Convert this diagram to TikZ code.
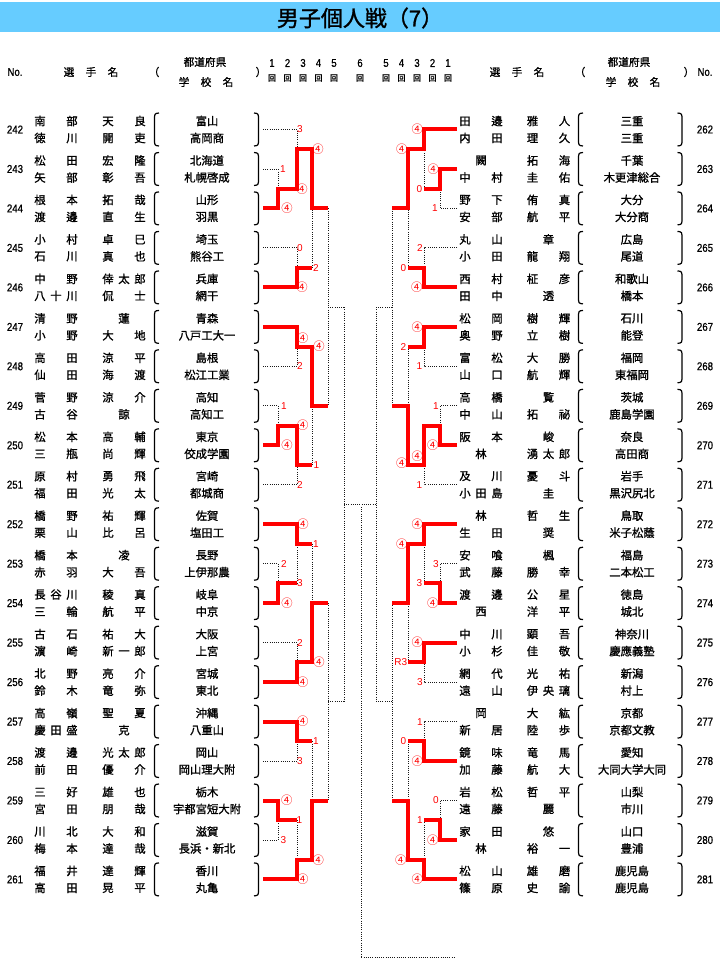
\documentclass[tikz,border=0pt]{standalone}
\usepackage{fontspec}
\newfontfamily\jpf{Noto Sans CJK JP}
\newfontfamily\jpbf[FakeBold=1.2]{Noto Sans CJK JP}
\newfontfamily\numf[FakeStretch=0.85,FakeBold=0.8]{Liberation Sans}
\newfontfamily\scorf{Liberation Sans}
\definecolor{barblue}{HTML}{66CCFF}
\newlength\namew
\setlength\namew{32.5pt}
\makeatletter
\newcommand\nmbox[1]{\hbox to \namew{\nm@a#1\@nil}}
\def\nm@a#1#2\@nil{\ifx\relax#2\relax\hfil#1\hfil\else#1\nm@b#2\@nil\fi}
\def\nm@b#1#2\@nil{\hfil#1\ifx\relax#2\relax\else\nm@b#2\@nil\fi}
\makeatother
% left entry: y, No., family/given (line 1), family/given (line 2), prefecture, school
\newcommand\Lent[8]{%
	\coordinate (s#2) at (263,#1);
	\node[notxt] (no#2) at (15,#1) {#2};
	\node[nmtxt] (fa#2) at (56,{#1-8.5}) {\nmbox{#3}};
	\node[nmtxt] (ga#2) at (124,{#1-8.5}) {\nmbox{#4}};
	\node[nmtxt] (fb#2) at (56,{#1+8.5}) {\nmbox{#5}};
	\node[nmtxt] (gb#2) at (124,{#1+8.5}) {\nmbox{#6}};
	\node[nmtxt] (pr#2) at (207,{#1-8.5}) {#7};
	\node[nmtxt] (sh#2) at (207,{#1+8.5}) {#8};
	\draw[parln] (159,{#1-16.5}) .. controls (154.5,{#1-16}) .. (154.5,{#1-9}) -- (154.5,{#1+9}) .. controls (154.5,{#1+16}) .. (159,{#1+16.5});
	\draw[parln] (254,{#1-16.5}) .. controls (258.5,{#1-16}) .. (258.5,{#1-9}) -- (258.5,{#1+9}) .. controls (258.5,{#1+16}) .. (254,{#1+16.5});
}
% right entry
\newcommand\Rent[8]{%
	\coordinate (s#2) at (457,#1);
	\node[notxt] (no#2) at (705,#1) {#2};
	\node[nmtxt] (fa#2) at (481,{#1-8.5}) {\nmbox{#3}};
	\node[nmtxt] (ga#2) at (548.5,{#1-8.5}) {\nmbox{#4}};
	\node[nmtxt] (fb#2) at (481,{#1+8.5}) {\nmbox{#5}};
	\node[nmtxt] (gb#2) at (548.5,{#1+8.5}) {\nmbox{#6}};
	\node[nmtxt] (pr#2) at (632,{#1-8.5}) {#7};
	\node[nmtxt] (sh#2) at (632,{#1+8.5}) {#8};
	\draw[parln] (583,{#1-16.5}) .. controls (578.5,{#1-16}) .. (578.5,{#1-9}) -- (578.5,{#1+9}) .. controls (578.5,{#1+16}) .. (583,{#1+16.5});
	\draw[parln] (677.5,{#1-16.5}) .. controls (682,{#1-16}) .. (682,{#1-9}) -- (682,{#1+9}) .. controls (682,{#1+16}) .. (677.5,{#1+16.5});
}
\begin{document}
\begin{tikzpicture}[x=0.75pt,y=-0.75pt,
	redln/.style={red,line width=3pt},
	dotln/.style={black!90,densely dotted,line width=0.65pt},
	parln/.style={line width=0.9pt},
	notxt/.style={inner sep=0,font=\numf\fontsize{8.5}{10}\selectfont},
	nmtxt/.style={inner sep=0,font=\jpbf\fontsize{8.5}{10}\selectfont},
	hdtxt/.style={inner sep=0,font=\jpbf\fontsize{8}{10}\selectfont},
	rdtxt/.style={inner sep=0,font=\jpbf\fontsize{6}{7}\selectfont},
	sctxt/.style={inner sep=0,red,font=\scorf\fontsize{7.5}{9}\selectfont},
	cirtxt/.style={inner sep=0,red,font=\jpf\fontsize{8.5}{9}\selectfont}]
	\fill[white] (0,0) rectangle (720,977);
	\useasboundingbox (0,0) rectangle (720,977);
	\fill[barblue] (0,2) rectangle (720,32);
	\node[inner sep=0,font=\jpbf\fontsize{16.5}{18}\selectfont] (title) at (360,18) {男子個人戦（7）};
	% header
	\node[notxt] (hnoL) at (15,72) {No.};
	\node[hdtxt] (hselL) at (91,72) {\makebox[41pt][s]{選\hfil 手\hfil 名}};
	\node[hdtxt] (hpaL) at (154,72) {（};
	\node[hdtxt] (hprL) at (205,62) {都道府県};
	\node[hdtxt] (hshL) at (206,82) {\makebox[41pt][s]{学\hfil 校\hfil 名}};
	\node[hdtxt] (hpbL) at (261,72) {）};
	\node[notxt] (hnoR) at (705,72) {No.};
	\node[hdtxt] (hselR) at (517,72) {\makebox[41pt][s]{選\hfil 手\hfil 名}};
	\node[hdtxt] (hpaR) at (580,72) {（};
	\node[hdtxt] (hprR) at (629,62) {都道府県};
	\node[hdtxt] (hshR) at (633,82) {\makebox[41pt][s]{学\hfil 校\hfil 名}};
	\node[hdtxt] (hpbR) at (689,72) {）};
	\node[notxt] (rn1) at (272,63) {1};    \node[rdtxt] (rk1) at (272,78) {回};
	\node[notxt] (rn2) at (287.5,63) {2};  \node[rdtxt] (rk2) at (287.5,78) {回};
	\node[notxt] (rn3) at (303,63) {3};    \node[rdtxt] (rk3) at (303,78) {回};
	\node[notxt] (rn4) at (318.5,63) {4};  \node[rdtxt] (rk4) at (318.5,78) {回};
	\node[notxt] (rn5) at (334,63) {5};    \node[rdtxt] (rk5) at (334,78) {回};
	\node[notxt] (rn6) at (360,63) {6};    \node[rdtxt] (rk6) at (360,78) {回};
	\node[notxt] (rm5) at (386,63) {5};    \node[rdtxt] (rj5) at (386,78) {回};
	\node[notxt] (rm4) at (401.5,63) {4};  \node[rdtxt] (rj4) at (401.5,78) {回};
	\node[notxt] (rm3) at (417,63) {3};    \node[rdtxt] (rj3) at (417,78) {回};
	\node[notxt] (rm2) at (432.5,63) {2};  \node[rdtxt] (rj2) at (432.5,78) {回};
	\node[notxt] (rm1) at (448,63) {1};    \node[rdtxt] (rj1) at (448,78) {回};
	% players
	\Lent{129.5}{242}{南部}{天良}{徳川}{開吏}{富山}{高岡商}
	\Lent{169.0}{243}{松田}{宏隆}{矢部}{彰吾}{北海道}{札幌啓成}
	\Lent{208.4}{244}{根本}{拓哉}{渡邊}{直生}{山形}{羽黒}
	\Lent{247.9}{245}{小村}{卓巳}{石川}{真也}{埼玉}{熊谷工}
	\Lent{287.4}{246}{中野}{倖太郎}{八十川}{侃士}{兵庫}{網干}
	\Lent{326.9}{247}{清野}{蓮}{小野}{大地}{青森}{八戸工大一}
	\Lent{366.3}{248}{高田}{涼平}{仙田}{海渡}{島根}{松江工業}
	\Lent{405.8}{249}{菅野}{涼介}{古谷}{諒}{高知}{高知工}
	\Lent{445.3}{250}{松本}{高輔}{三瓶}{尚輝}{東京}{佼成学園}
	\Lent{484.7}{251}{原村}{勇飛}{福田}{光太}{宮崎}{都城商}
	\Lent{524.2}{252}{橋野}{祐輝}{栗山}{比呂}{佐賀}{塩田工}
	\Lent{563.7}{253}{橋本}{凌}{赤羽}{大吾}{長野}{上伊那農}
	\Lent{603.1}{254}{長谷川}{稜真}{三輪}{航平}{岐阜}{中京}
	\Lent{642.6}{255}{古石}{祐大}{濵崎}{新一郎}{大阪}{上宮}
	\Lent{682.1}{256}{北野}{亮介}{鈴木}{竜弥}{宮城}{東北}
	\Lent{721.6}{257}{高嶺}{聖夏}{慶田盛}{克}{沖縄}{八重山}
	\Lent{761.0}{258}{渡邊}{光太郎}{前田}{優介}{岡山}{岡山理大附}
	\Lent{800.5}{259}{三好}{雄也}{宮田}{朋哉}{栃木}{宇都宮短大附}
	\Lent{840.0}{260}{川北}{大和}{梅本}{達哉}{滋賀}{長浜・新北}
	\Lent{879.4}{261}{福井}{達輝}{高田}{晃平}{香川}{丸亀}
	\Rent{129.5}{262}{田邊}{雅人}{内田}{理久}{三重}{三重}
	\Rent{169.0}{263}{闕}{拓海}{中村}{圭佑}{千葉}{木更津総合}
	\Rent{208.4}{264}{野下}{侑真}{安部}{航平}{大分}{大分商}
	\Rent{247.9}{265}{丸山}{章}{小田}{龍翔}{広島}{尾道}
	\Rent{287.4}{266}{西村}{柾彦}{田中}{透}{和歌山}{橋本}
	\Rent{326.9}{267}{松岡}{樹輝}{奥野}{立樹}{石川}{能登}
	\Rent{366.3}{268}{富松}{大勝}{山口}{航輝}{福岡}{東福岡}
	\Rent{405.8}{269}{高橋}{覧}{中山}{拓祕}{茨城}{鹿島学園}
	\Rent{445.3}{270}{阪本}{峻}{林}{湧太郎}{奈良}{高田商}
	\Rent{484.7}{271}{及川}{憂斗}{小田島}{圭}{岩手}{黒沢尻北}
	\Rent{524.2}{272}{林}{哲生}{生田}{奨}{鳥取}{米子松蔭}
	\Rent{563.7}{273}{安喰}{楓}{武藤}{勝幸}{福島}{二本松工}
	\Rent{603.1}{274}{渡邊}{公星}{西}{洋平}{徳島}{城北}
	\Rent{642.6}{275}{中川}{顕吾}{小杉}{佳敬}{神奈川}{慶應義塾}
	\Rent{682.1}{276}{網代}{光祐}{遠山}{伊央璃}{新潟}{村上}
	\Rent{721.6}{277}{岡}{大紘}{新居}{陸歩}{京都}{京都文教}
	\Rent{761.0}{278}{鏡味}{竜馬}{加藤}{航大}{愛知}{大同大学大同}
	\Rent{800.5}{279}{岩松}{哲平}{遠藤}{麗}{山梨}{市川}
	\Rent{840.0}{280}{家田}{悠}{林}{裕一}{山口}{豊浦}
	\Rent{879.4}{281}{松山}{雄磨}{篠原}{史諭}{鹿児島}{鹿児島}
	% left bracket
	\draw[dotln] (s242) -| (297,149.2);
	\draw[dotln] (s243) -| (278,188.7);
	\draw[dotln] (s245) -| (297,267.6);
	\draw[dotln] (312,267.6) -- (312,208.4);
	\draw[dotln] (s248) -| (297,346.6);
	\draw[dotln] (s249) -| (278,425.5);
	\draw[dotln] (s251) -| (297,465.0);
	\draw[dotln] (312,465.0) -- (312,405.8);
	\draw[dotln] (328,208.4) -- (328,405.8);
	\draw[dotln] (328,307.1) -- (344,307.1);
	\draw[dotln] (s253) -| (278,583.4);
	\draw[dotln] (297,583.4) -- (297,543.9);
	\draw[dotln] (312,543.9) -- (312,603.1);
	\draw[dotln] (s255) -| (297,662.3);
	\draw[dotln] (s258) -| (297,741.3);
	\draw[dotln] (312,741.3) -- (312,800.5);
	\draw[dotln] (s260) -| (278,820.2);
	\draw[dotln] (297,820.2) -- (297,859.7);
	\draw[dotln] (328,603.1) -- (328,800.5);
	\draw[dotln] (328,701.8) -- (344,701.8);
	\draw[dotln] (344,307.1) -- (344,701.8);
	\draw[redln] (s244) -| (278,188.7) -| (297,149.2) -| (312,208.4) -- (328,208.4);
	\draw[redln] (s246) -| (297,267.6) -- (312,267.6);
	\draw[redln] (s247) -| (297,346.6) -| (312,405.8) -- (328,405.8);
	\draw[redln] (s250) -| (278,425.5) -| (297,465.0) -- (312,465.0);
	\draw[redln] (s252) -| (297,543.9) -- (312,543.9);
	\draw[redln] (s254) -| (278,583.4) -- (297,583.4);
	\draw[redln] (s256) -| (297,662.3) -| (312,603.1) -- (328,603.1);
	\draw[redln] (s257) -| (297,741.3) -- (312,741.3);
	\draw[redln] (s259) -| (278,820.2) -- (297,820.2);
	\draw[redln] (s261) -| (297,859.7) -| (312,800.5) -- (328,800.5);
	% right bracket
	\draw[dotln] (s264) -| (440,188.7);
	\draw[dotln] (424,188.7) -- (424,149.2);
	\draw[dotln] (s265) -| (424,267.6);
	\draw[dotln] (408,267.6) -- (408,208.4);
	\draw[dotln] (s268) -| (424,346.6);
	\draw[dotln] (408,346.6) -- (408,405.8);
	\draw[dotln] (s269) -| (440,425.5);
	\draw[dotln] (s271) -| (424,465.0);
	\draw[dotln] (392,208.4) -- (392,405.8);
	\draw[dotln] (392,307.1) -- (376,307.1);
	\draw[dotln] (s273) -| (440,583.4);
	\draw[dotln] (424,583.4) -- (424,543.9);
	\draw[dotln] (s276) -| (424,662.3);
	\draw[dotln] (408,662.3) -- (408,603.1);
	\draw[dotln] (s277) -| (424,741.3);
	\draw[dotln] (408,741.3) -- (408,800.5);
	\draw[dotln] (s279) -| (440,820.2);
	\draw[dotln] (424,820.2) -- (424,859.7);
	\draw[dotln] (392,603.1) -- (392,800.5);
	\draw[dotln] (392,701.8) -- (376,701.8);
	\draw[dotln] (376,307.1) -- (376,701.8);
	\draw[redln] (s262) -| (424,149.2) -| (408,208.4) -- (392,208.4);
	\draw[redln] (s263) -| (440,188.7) -- (424,188.7);
	\draw[redln] (s266) -| (424,267.6) -- (408,267.6);
	\draw[redln] (s267) -| (424,346.6) -- (408,346.6);
	\draw[redln] (s270) -| (440,425.5) -| (424,465.0) -| (408,405.8) -- (392,405.8);
	\draw[redln] (s272) -| (424,543.9) -| (408,603.1) -- (392,603.1);
	\draw[redln] (s274) -| (440,583.4) -- (424,583.4);
	\draw[redln] (s275) -| (424,662.3) -- (408,662.3);
	\draw[redln] (s278) -| (424,741.3) -- (408,741.3);
	\draw[redln] (s280) -| (440,820.2) -- (424,820.2);
	\draw[redln] (s281) -| (424,859.7) -| (408,800.5) -- (392,800.5);
	% centre
	\draw[dotln] (344,504.5) -- (376,504.5);
	\draw[dotln] (361,507) -- (361,957.7) -- (455,957.7);
	% scores, left
	\node[sctxt] (p242) at (300,129.5) {3};
	\node[sctxt] (p243) at (283,169.0) {1};
	\node[cirtxt] (p244) at (287,208.4) {④};
	\node[cirtxt] (q244) at (302,188.7) {④};
	\node[sctxt] (p245) at (300,247.9) {0};
	\node[cirtxt] (p246) at (302,287.4) {④};
	\node[cirtxt] (r244) at (318,149.2) {④};
	\node[sctxt] (q246) at (316,267.6) {2};
	\node[cirtxt] (p247) at (302.7,338.3) {④};
	\node[sctxt] (p248) at (300,366.3) {2};
	\node[cirtxt] (q247) at (319,346.6) {④};
	\node[sctxt] (r250) at (316.5,465.0) {1};
	\node[sctxt] (p249) at (284,405.8) {1};
	\node[cirtxt] (p250) at (287,445.3) {④};
	\node[cirtxt] (q250) at (302.7,425.5) {④};
	\node[sctxt] (p251) at (300,484.7) {2};
	\node[cirtxt] (p252) at (303,524.2) {④};
	\node[sctxt] (q252) at (316,543.9) {1};
	\node[cirtxt] (q256) at (319,662.3) {④};
	\node[sctxt] (p253) at (284,563.7) {2};
	\node[cirtxt] (p254) at (287,603.1) {④};
	\node[sctxt] (q254) at (300,583.4) {3};
	\node[sctxt] (p255) at (300,642.6) {2};
	\node[cirtxt] (p256) at (302.7,682.1) {④};
	\node[cirtxt] (p257) at (302.7,721.6) {④};
	\node[sctxt] (q257) at (316,741.3) {1};
	\node[cirtxt] (q261) at (318.3,859.7) {④};
	\node[sctxt] (p258) at (300,761.0) {3};
	\node[cirtxt] (p259) at (286.7,800.5) {④};
	\node[sctxt] (q259) at (299.3,820.2) {1};
	\node[sctxt] (p260) at (283.3,840.0) {3};
	\node[cirtxt] (p261) at (302.7,879.4) {④};
	% scores, right
	\node[cirtxt] (p262) at (417.3,129.5) {④};
	\node[cirtxt] (q262) at (401.7,149.2) {④};
	\node[sctxt] (q266) at (403.3,267.6) {0};
	\node[cirtxt] (p263) at (433.3,169.0) {④};
	\node[sctxt] (q263) at (419.3,188.7) {0};
	\node[sctxt] (p264) at (435,208.4) {1};
	\node[sctxt] (p265) at (420,247.9) {2};
	\node[cirtxt] (p266) at (416.7,287.4) {④};
	\node[cirtxt] (p267) at (417.3,326.9) {④};
	\node[sctxt] (q267) at (403.3,346.6) {2};
	\node[cirtxt] (r270) at (401.7,463.3) {④};
	\node[sctxt] (p268) at (419.3,366.3) {1};
	\node[sctxt] (p269) at (436,405.8) {1};
	\node[cirtxt] (p270) at (432.7,445.3) {④};
	\node[cirtxt] (q270) at (417.3,455.7) {④};
	\node[sctxt] (p271) at (419.3,484.7) {1};
	\node[cirtxt] (p272) at (417.3,524.2) {④};
	\node[cirtxt] (q272) at (401.7,543.9) {④};
	\node[sctxt] (q275) at (400.7,662.3) {R3};
	\node[sctxt] (p273) at (436,563.7) {3};
	\node[cirtxt] (p274) at (432.7,603.1) {④};
	\node[sctxt] (q274) at (419.3,583.4) {3};
	\node[cirtxt] (p275) at (417.3,642.6) {④};
	\node[sctxt] (p276) at (420,682.1) {3};
	\node[sctxt] (p277) at (420,721.6) {1};
	\node[cirtxt] (p278) at (417.3,761.0) {④};
	\node[sctxt] (q278) at (403.3,741.3) {0};
	\node[cirtxt] (q281) at (400.7,859.7) {④};
	\node[sctxt] (p279) at (436,800.5) {0};
	\node[cirtxt] (p280) at (432.7,840.0) {④};
	\node[sctxt] (q280) at (420,820.2) {1};
	\node[cirtxt] (p281) at (417.3,879.4) {④};
\end{tikzpicture}
\end{document}
